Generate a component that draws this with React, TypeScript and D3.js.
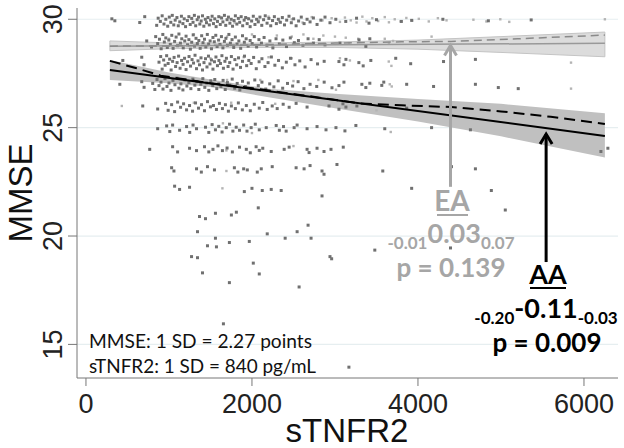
import React from "react";
import * as d3 from "d3";

// x ticks / y ticks
const xTicks = [0, 2000, 4000, 6000];
const yTicks = [15, 20, 25, 30];

// AA participants (dark points) [sTNFR2, MMSE]
const aaTop: number[][] = [
  [312,30.02],[348,29.93],[648,29.85],[708,30.12],[852,29.72],[870,30.05],[896,29.9],[918,30.16],[940,29.78],[962,30.0],[985,29.68],[1004,30.1],[1022,29.86],[1040,30.18],[1058,29.74],[1075,29.96],[1096,30.08],[1112,29.7],[1130,29.88],[1150,30.14],[1168,29.8],[1184,30.02],[1200,29.66],[1222,29.94],[1240,30.12],[1256,29.76],[1274,30.04],[1290,29.86],[1306,30.18],[1322,29.7],[1340,29.98],[1356,30.1],[1372,29.78],[1388,29.92],[1404,30.16],[1420,29.68],[1438,30.0],[1452,29.84],[1470,30.08],[1486,29.74],[1502,29.96],[1520,30.14],[1536,29.8],[1552,30.02],[1568,29.66],[1584,29.9],[1600,30.12],[1618,29.76],[1634,30.06],[1650,29.88],[1668,30.18],[1684,29.72],[1700,29.98],[1716,30.1],[1734,29.82],[1750,30.0],[1766,29.68],[1784,29.94],[1800,30.16],[1818,29.78],[1836,30.04],[1852,29.86],[1870,30.12],[1888,29.7],[1906,29.96],[1924,30.08],[1942,29.8],[1960,30.02],[1978,29.66],[1996,29.92],[2016,30.14],[2036,29.76],[2056,30.0],[2076,29.88],[2096,30.1],[2118,29.72],[2140,29.98],[2160,30.16],[2182,29.82],[2204,30.04],[2226,29.7],[2248,29.94],[2270,30.12],[2294,29.8],[2318,30.0],[2342,29.86],[2366,30.08],[2392,29.74],[2418,29.96],[2446,30.14],[2474,29.84],[2502,30.02],[2532,29.7],[2562,29.92],[2594,30.1],[2628,29.8],[2664,30.0],[2700,29.88],[2740,30.06],[2784,29.76],[2830,29.96],[2880,30.1],[2940,29.84],[3010,30.0],[3130,29.9],[3260,30.05],[3410,29.82],[3500,29.98],[3800,29.9],[3924,29.95],[4300,30.0],[4848,29.93],[5364,29.97],
  [732,29.0],[790,28.72],[840,29.2],[864,28.88],[886,29.08],[906,28.64],[926,29.3],[944,28.95],[962,29.14],[980,28.7],[998,29.04],[1016,28.84],[1034,29.26],[1050,28.66],[1068,28.98],[1086,29.18],[1104,28.78],[1120,29.32],[1138,28.9],[1154,29.1],[1172,28.68],[1190,29.0],[1206,29.22],[1224,28.82],[1240,29.06],[1258,28.62],[1274,28.94],[1292,29.28],[1308,28.76],[1326,29.12],[1342,28.88],[1360,29.02],[1376,28.66],[1394,29.24],[1410,28.92],[1428,29.08],[1444,28.72],[1462,29.3],[1478,28.86],[1496,29.0],[1512,28.64],[1530,29.16],[1546,28.96],[1564,29.26],[1580,28.74],[1598,29.04],[1614,28.84],[1632,29.2],[1650,28.68],[1668,28.98],[1686,29.12],[1704,28.8],[1722,29.3],[1740,28.9],[1760,29.06],[1780,28.7],[1800,29.18],[1820,28.86],[1842,29.0],[1864,28.66],[1886,29.24],[1908,28.94],[1930,29.1],[1954,28.76],[1978,29.02],[2002,28.88],[2028,29.2],[2056,28.72],[2084,29.06],[2114,28.9],[2146,29.16],[2180,28.8],[2216,29.0],[2252,28.68],[2290,29.1],[2330,28.86],[2372,29.04],[2416,28.74],[2462,29.14],[2510,28.92],[2560,29.02],[2614,28.8],[2676,29.1],[2740,28.9],[2810,29.06],[2880,28.82],[3060,28.9],[3290,29.05],[3372,28.75],[3420,29.1],
];

const aaMid: number[][] = [
  [444,28.1],[672,28.25],[700,27.9],[880,28.02],[900,28.28],[918,27.7],[936,28.12],[954,27.88],[972,28.32],[990,27.96],[1008,28.16],[1026,27.66],[1044,28.06],[1062,28.24],[1080,27.82],[1098,28.0],[1116,28.3],[1134,27.74],[1152,28.1],[1170,27.92],[1188,28.2],[1206,27.68],[1224,28.04],[1242,28.28],[1260,27.84],[1278,28.14],[1296,27.98],[1314,28.34],[1332,27.72],[1350,28.08],[1368,27.9],[1386,28.22],[1404,27.66],[1422,28.0],[1440,28.18],[1458,27.8],[1476,28.3],[1494,27.94],[1512,28.12],[1530,27.7],[1548,28.04],[1566,28.26],[1584,27.86],[1602,28.1],[1620,27.96],[1638,28.32],[1656,27.74],[1674,28.06],[1692,28.2],[1712,27.82],[1732,28.0],[1752,28.28],[1772,27.7],[1794,28.14],[1816,27.9],[1838,28.22],[1862,27.78],[1886,28.06],[1910,28.3],[1936,27.86],[1962,28.1],[1990,27.96],[2020,28.24],[2052,27.72],[2086,28.04],[2120,28.18],[2156,27.82],[2194,28.0],[2234,28.26],[2276,27.88],[2320,28.1],[2366,27.76],[2414,28.02],[2464,28.2],[2518,27.9],[2576,28.08],[2640,27.8],[2712,28.14],[2790,27.94],[2870,28.06],[3048,28.05],[3108,27.9],[3132,28.15],[3288,28.0],[3340,27.85],[3432,28.1],[3732,28.2],[3912,27.95],[4308,28.05],[4692,28.15],
  [408,27.0],[672,27.12],[700,26.86],[804,27.04],[830,26.76],[856,27.22],[880,26.94],[904,27.1],[928,26.78],[952,27.26],[976,26.9],[1000,27.06],[1024,26.72],[1048,27.18],[1072,26.98],[1096,27.28],[1120,26.82],[1144,27.02],[1168,26.74],[1192,27.2],[1216,26.92],[1240,27.08],[1264,26.8],[1288,27.24],[1312,26.96],[1336,27.12],[1360,26.76],[1384,27.0],[1408,27.26],[1432,26.86],[1456,27.06],[1480,26.72],[1504,27.16],[1528,26.94],[1552,27.22],[1576,26.8],[1600,27.02],[1626,26.9],[1652,27.18],[1678,26.76],[1704,27.08],[1732,26.96],[1762,27.24],[1792,26.82],[1822,27.04],[1854,26.74],[1886,27.14],[1920,26.9],[1956,27.06],[1994,26.8],[2034,27.2],[2076,26.94],[2120,27.1],[2166,26.78],[2214,27.02],[2264,26.88],[2316,27.16],[2370,26.82],[2428,27.04],[2490,26.92],[2556,27.12],[2626,26.8],[2700,27.0],[2780,26.9],[2870,27.1],[2964,26.84],[3048,26.94],[3108,27.1],[3324,27.0],[3372,26.85],[3420,27.05],[3564,26.95],[3588,27.1],[3864,27.0],[4188,26.9],[4692,27.0],[4968,26.85],[5208,26.8],
];

const aaLow: number[][] = [
  [684,26.0],[864,25.86],[960,26.12],[990,25.8],[1032,26.06],[1068,25.74],[1104,26.18],[1140,25.94],[1176,26.1],[1212,25.82],[1248,26.02],[1284,25.76],[1320,26.14],[1356,25.9],[1392,26.06],[1428,25.78],[1464,26.2],[1500,25.96],[1536,26.02],[1572,25.84],[1608,26.12],[1644,25.88],[1680,26.06],[1716,25.76],[1752,26.0],[1800,25.88],[1836,26.14],[1884,25.82],[1932,26.02],[1980,25.78],[2028,26.08],[2088,25.9],[2130,26.16],[2184,25.84],[2244,26.0],[2304,25.88],[2376,26.08],[2448,25.94],[2532,26.12],[2664,25.95],[2928,26.0],[3048,25.85],[3096,26.1],[3132,25.95],[3264,26.0],[3864,25.9],
  [864,24.95],[972,25.08],[1010,24.82],[1044,25.12],[1128,24.88],[1212,25.05],[1250,24.78],[1290,25.12],[1332,24.95],[1440,25.02],[1480,24.78],[1520,25.14],[1560,24.9],[1600,25.06],[1640,24.8],[1690,25.0],[1730,25.16],[1770,24.84],[1810,25.02],[1850,24.88],[1900,25.12],[1940,24.84],[1990,25.0],[2040,25.16],[2088,24.9],[2172,25.0],[2292,25.1],[2330,24.88],[2380,25.05],[2412,24.84],[2508,25.0],[2544,25.12],[2664,24.95],[2784,25.05],[2892,24.9],[3012,25.0],[3120,24.85],[3252,25.1],[3600,24.95],[4164,25.0],[4632,24.9],
  [768,24.0],[1044,24.12],[1104,23.88],[1248,24.05],[1332,23.94],[1428,24.12],[1480,23.88],[1530,24.0],[1590,24.16],[1644,23.94],[1700,24.06],[1764,23.88],[1850,24.1],[1932,24.0],[1980,23.84],[2050,24.12],[2088,23.95],[2130,24.05],[2232,23.9],[2388,24.0],[2448,24.1],[2664,24.0],[2688,23.85],[2784,24.05],[2868,23.9],[2952,24.0],[3100,24.1],[6204,23.9],[6288,24.05],
  [1032,23.15],[1060,23.0],[1332,23.1],[1390,22.95],[1464,23.2],[1548,23.05],[1788,23.15],[1830,22.95],[1900,23.1],[1944,23.05],[2064,22.95],[2112,23.1],[2244,23.2],[2532,23.15],[2628,23.1],[2700,23.25],[2844,23.0],[2868,22.85],[3024,23.3],[3576,23.0],[4404,23.2],[4692,23.1],
  [1068,22.3],[1128,22.15],[1248,22.25],[1908,22.05],[2000,22.2],[2124,22.1],[2232,22.15],[2352,22.1],[2844,21.85],[3924,22.2],[4884,22.1],
  [1368,20.9],[1440,20.8],[1560,21.05],[1752,20.97],[1812,21.1],[2076,21.3],[5052,21.2],
  [1344,20.2],[1560,19.9],[1464,19.55],[1572,19.5],[1728,19.7],[1968,19.75],[2184,20.1],[2400,19.9],[2544,20.2],[2676,20.5],[2712,19.9],[4392,19.45],[3480,19.35],
  [1272,19.05],[1344,19.0],[2016,18.75],[2940,19.05],[2960,18.95],
  [1404,18.3],[2088,18.25],[1728,17.85],[2568,17.65],[1656,15.95],[3168,13.95],
];

// EA participants (light points)
const eaPoints: number[][] = [
  [1450,29.9],[1620,30.1],[1790,29.85],[1950,30.05],[2080,29.95],[2200,30.12],[2330,29.9],[2480,30.0],[2610,29.85],[2720,30.1],
  [2850,29.95],[2960,30.05],[3060,29.88],[3120,30.08],[3190,29.95],[3260,29.85],[3330,30.12],[3380,29.9],[3450,30.05],[3520,29.92],
  [3600,30.1],[3650,29.86],[3720,30.0],[3790,29.9],[3860,30.06],[3930,29.94],[4010,30.02],[4130,29.9],[4240,30.05],[4344,29.95],
  [4668,29.98],[4824,29.9],[4992,30.0],[5100,29.88],[6252,30.0],
  [1000,29.1],[1300,29.3],[1700,29.2],[2000,29.3],[2300,29.25],[2480,29.2],[2620,29.3],[2740,29.1],[2860,29.25],[3000,29.2],
  [3130,29.15],[3170,28.9],[3280,29.1],[3600,29.1],[3650,28.9],[3700,29.0],[4164,29.2],
  [1500,28.2],[1900,28.25],[2200,28.25],[2480,28.2],[3060,28.2],[3180,28.1],[3648,28.05],[3680,27.85],[5844,28.0],
  [1700,27.2],[2100,27.2],[2500,27.15],[2800,27.2],[3012,26.75],[3660,27.0],[3684,26.9],[5844,26.8],
  [432,26.0],[1300,26.15],[1750,26.15],[2280,26.1],[3500,25.8],
  [3672,24.8],[2000,24.75],[1650,25.2],[1692,23.95],[2500,24.15],[1692,23.0],[1644,22.2],
];

// linear fits and confidence bands [sTNFR2, estimate]
const eaFit = [[288, 28.76], [6252, 28.89]];
const aaFit = [[288, 27.66], [6252, 24.62]];
const eaBandX = [288, 1000, 2000, 3000, 4000, 5000, 6252];
const eaBandLo = [28.55, 28.64, 28.7, 28.7, 28.62, 28.47, 28.27];
const eaBandHi = [29.0, 28.91, 28.9, 28.95, 29.04, 29.2, 29.41];
const aaBandX = [288, 1000, 1500, 2200, 3000, 4000, 5000, 6252];
const aaBandLo = [27.2, 27.05, 26.88, 26.4, 25.9, 25.28, 24.6, 23.62];
const aaBandHi = [28.12, 27.55, 27.22, 26.8, 26.56, 26.32, 26.1, 25.66];

// lowess smooths
const eaLowess = [[288, 28.76], [1000, 28.77], [2000, 28.82], [3000, 28.9], [3800, 28.96], [4400, 28.98], [5200, 29.1], [6252, 29.27]];
const aaLowess = [[288, 28.08], [600, 27.75], [900, 27.4], [1500, 27.05], [2000, 26.82], [2600, 26.5], [3300, 26.12], [3800, 26.03], [4400, 25.95], [5000, 25.75], [5600, 25.5], [6252, 25.17]];

const aaPoints = [...aaTop, ...aaMid, ...aaLow];

const W = 624;
const H = 448;
const x = d3.scaleLinear().domain([-108, 6410]).range([77, 618]);
const y = d3.scaleLinear().domain([13.45, 30.52]).range([378, 8]);

const line = d3.line<number[]>().x((d) => x(d[0])).y((d) => y(d[1]));
const area = (xs: number[], lo: number[], hi: number[]) =>
  d3
    .area<number>()
    .x((d, i) => x(xs[i]))
    .y0((d, i) => y(lo[i]))
    .y1((d, i) => y(hi[i]))(xs);

const ANNO = "Lato, 'Open Sans', sans-serif";
const AXF = "'Liberation Sans', Arial, sans-serif";

function Arrow({ vx, from, to, color }: { vx: number; from: number; to: number; color: string }) {
  const px = x(vx);
  const y1 = y(from);
  const y2 = y(to);
  return (
    <g stroke={color} strokeWidth={3} fill="none">
      <line x1={px} x2={px} y1={y1} y2={y2 + 1} />
      <polyline points={`${px - 6},${y2 + 11} ${px},${y2 + 1} ${px + 6},${y2 + 11}`} strokeLinejoin="miter" />
    </g>
  );
}

export default function App() {
  const gray = "#a6a6a6";
  return (
    <svg width={W} height={H} style={{ position: "absolute", left: 0, top: 0, background: "#fff" }}>
      {/* grid */}
      {yTicks.map((t) => (
        <line key={t} x1={77} x2={618} y1={y(t)} y2={y(t)} stroke="#e6eef0" strokeWidth={1.2} />
      ))}
      {/* bands */}
      <path d={area(eaBandX, eaBandLo, eaBandHi) || ""} fill="#dcdcdc" stroke="#c4c4c4" strokeWidth={1} />
      <path d={area(aaBandX, aaBandLo, aaBandHi) || ""} fill="#c0c0c0" />
      {/* points */}
      {eaPoints.map((d, i) => (
        <rect key={"e" + i} x={x(d[0]) - 1.2} y={y(d[1]) - 1.2} width={2.4} height={2.4} fill="#b4b4b4" />
      ))}
      {aaPoints.map((d, i) => (
        <rect key={"a" + i} x={x(d[0]) - 1.5} y={y(d[1]) - 1.5} width={3} height={3} fill="#707070" />
      ))}
      {/* fits */}
      <path d={line(eaFit) || ""} stroke="#999" strokeWidth={1.5} fill="none" />
      <path d={line(eaLowess) || ""} stroke="#8a8a8a" strokeWidth={1.5} strokeDasharray="8,5" fill="none" />
      <path d={line(aaFit) || ""} stroke="#000" strokeWidth={2} fill="none" />
      <path d={line(aaLowess) || ""} stroke="#000" strokeWidth={2} strokeDasharray="11,6" fill="none" />

      {/* axes */}
      <line x1={77} x2={77} y1={8} y2={378} stroke="#777" />
      <line x1={77} x2={618} y1={378} y2={378} stroke="#777" />
      {yTicks.map((t) => (
        <g key={t}>
          <line x1={68} x2={77} y1={y(t)} y2={y(t)} stroke="#777" />
          <text
            transform={`translate(62,${y(t)}) rotate(-90)`}
            textAnchor="middle"
            fontFamily={AXF}
            fontSize={27}
            fill="#222"
          >
            {t}
          </text>
        </g>
      ))}
      {xTicks.map((t) => (
        <g key={t}>
          <line x1={x(t)} x2={x(t)} y1={378} y2={386} stroke="#777" />
          <text x={x(t)} y={413} textAnchor="middle" fontFamily={AXF} fontSize={27} fill="#222">
            {t}
          </text>
        </g>
      ))}
      <text x={347} y={442} textAnchor="middle" fontFamily={AXF} fontSize={33} fill="#111">
        sTNFR2
      </text>
      <text transform="translate(32,193) rotate(-90)" textAnchor="middle" fontFamily={AXF} fontSize={33} fill="#111">
        MMSE
      </text>

      {/* SD note */}
      <text x={89} y={348} fontFamily={ANNO} fontSize={19.5} fill="#111" textLength={223} lengthAdjust="spacingAndGlyphs">
        MMSE: 1 SD = 2.27 points
      </text>
      <text x={89} y={373} fontFamily={ANNO} fontSize={19.5} fill="#111" textLength={227} lengthAdjust="spacingAndGlyphs">
        sTNFR2: 1 SD = 840 pg/mL
      </text>

      {/* arrows */}
      <Arrow vx={4392} from={22.27} to={28.84} color={gray} />
      <Arrow vx={5544} from={18.8} to={24.75} color="#000" />

      {/* EA annotation */}
      <g fontFamily={ANNO} fontWeight="bold" fill={gray} textAnchor="middle">
        <text x={452} y={211} fontSize={28}>EA</text>
        <line x1={437} x2={468} y1={215} y2={215} stroke={gray} strokeWidth={2} />
        <text x={451} y={243}>
          <tspan fontSize={17} dy={6}>-0.01</tspan>
          <tspan fontSize={27} dy={-6}>0.03</tspan>
          <tspan fontSize={17} dy={6}>0.07</tspan>
        </text>
        <text x={451} y={277} fontSize={26}>p = 0.139</text>
      </g>
      {/* AA annotation */}
      <g fontFamily={ANNO} fontWeight="bold" fill="#000" textAnchor="middle">
        <text x={548} y={284} fontSize={27}>AA</text>
        <line x1={530} x2={566} y1={288} y2={288} stroke="#000" strokeWidth={2} />
        <text x={546} y={318}>
          <tspan fontSize={17} dy={6}>-0.20</tspan>
          <tspan fontSize={27} dy={-6}>-0.11</tspan>
          <tspan fontSize={17} dy={6}>-0.03</tspan>
        </text>
        <text x={547} y={352} fontSize={26}>p = 0.009</text>
      </g>
    </svg>
  );
}
